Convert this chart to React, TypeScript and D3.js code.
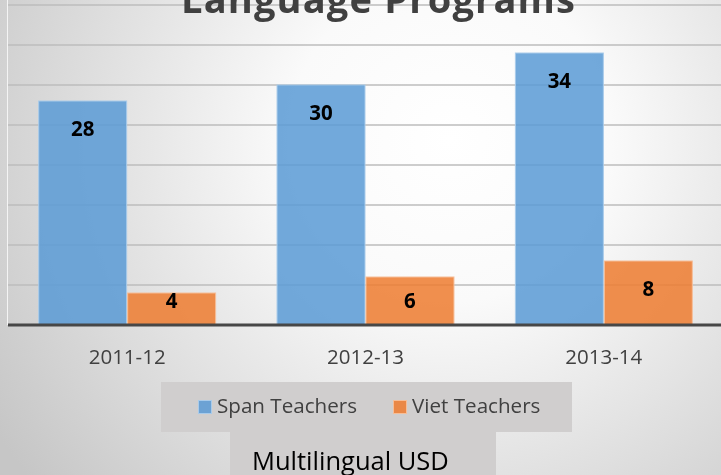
import React from "react";
import * as d3 from "d3";

const categories = ["2011-12", "2012-13", "2013-14"];
const seriesNames = ["Span Teachers", "Viet Teachers"];
const spanTeachers = [28, 30, 34];
const vietTeachers = [4, 6, 8];
const yTicks = [0, 5, 10, 15, 20, 25, 30, 35, 40];
const title = "Language Programs";
const subtitle = "Multilingual USD";

const colors = ["#5B9BD5", "#ED7D31"];
const strokes = ["#A9CBEA", "#F6BE98"];

export default function App() {
  const W = 721;
  const H = 475;
  const plotLeft = 8;
  const plotRight = 723;
  const baseY = 325;
  const topY = 5;

  const x = d3
    .scaleBand<string>()
    .domain(categories)
    .range([plotLeft, plotRight])
    .paddingInner(0.2535)
    .paddingOuter(0.1267);
  const xs = d3.scaleBand<string>().domain(seriesNames).range([0, x.bandwidth()]);
  const y = d3.scaleLinear().domain([0, 40]).range([baseY, topY]);

  const series = [spanTeachers, vietTeachers];
  const font = "'Open Sans', 'DejaVu Sans', sans-serif";

  return (
    <div style={{ position: "fixed", left: 0, top: 0, width: W, height: H }}>
      <svg width={W} height={H} style={{ display: "block" }}>
        <defs>
          <radialGradient id="bg" gradientUnits="userSpaceOnUse" cx={450} cy={140} r={540}>
            <stop offset="0" stopColor="#FFFFFF" />
            <stop offset="0.3" stopColor="#FAFAFA" />
            <stop offset="1" stopColor="#C6C6C6" />
          </radialGradient>
        </defs>
        <rect x={0} y={0} width={W} height={H} fill="url(#bg)" />
        <line x1={7.5} x2={7.5} y1={0} y2={baseY} stroke="#F4F4F4" strokeWidth={1} />
        {yTicks.slice(1).map((t) => (
          <line
            key={t}
            x1={plotLeft}
            x2={W}
            y1={y(t)}
            y2={y(t)}
            stroke="#BDBDBD"
            strokeWidth={1.3}
          />
        ))}
        {series.map((vals, si) =>
          vals.map((v, ci) => {
            const bx = (x(categories[ci]) ?? 0) + (xs(seriesNames[si]) ?? 0);
            return (
              <rect
                key={`${si}-${ci}`}
                x={bx + 0.5}
                y={y(v)}
                width={xs.bandwidth() - 1}
                height={baseY - y(v)}
                fill={colors[si]}
                fillOpacity={0.86}
                stroke={strokes[si]}
                strokeWidth={1}
              />
            );
          })
        )}
        {series.map((vals, si) =>
          vals.map((v, ci) => {
            const cx = (x(categories[ci]) ?? 0) + (xs(seriesNames[si]) ?? 0) + xs.bandwidth() / 2;
            const cy = Math.min(y(v) + 27, baseY - 24.5);
            return (
              <text
                key={`l${si}-${ci}`}
                x={cx}
                y={cy + 7.5}
                textAnchor="middle"
                fontFamily={font}
                fontWeight={700}
                fontSize={20.5}
                fill="#000000"
              >
                {v}
              </text>
            );
          })
        )}
        <line x1={plotLeft} x2={W} y1={baseY} y2={baseY} stroke="#474747" strokeWidth={3} />
        {categories.map((c) => (
          <text
            key={c}
            x={(x(c) ?? 0) + x.bandwidth() / 2}
            y={364}
            textAnchor="middle"
            fontFamily={font}
            fontSize={20.5}
            fill="#404040"
          >
            {c}
          </text>
        ))}
        <text
          x={181}
          y={13}
          fontFamily={font}
          fontWeight={700}
          fontSize={38}
          fill="#404040"
          textLength={394}
          lengthAdjust="spacing"
        >
          {title}
        </text>
        <rect x={161} y={382} width={411} height={50} fill="#D0CECE" />
        {seriesNames.map((s, i) => {
          const lx = i === 0 ? 198 : 393;
          return (
            <g key={s}>
              <rect
                x={lx + 0.5}
                y={400.5}
                width={13}
                height={13}
                fill={colors[i]}
                fillOpacity={0.86}
                stroke={strokes[i]}
                strokeWidth={1}
              />
              <text x={lx + 19} y={413} fontFamily={font} fontSize={20.6} fill="#404040">
                {s}
              </text>
            </g>
          );
        })}
        <rect x={230} y={432} width={266} height={43} fill="#D0CECE" />
        <text x={252} y={470} fontFamily={font} fontSize={25.5} fill="#000000">
          {subtitle}
        </text>
      </svg>
    </div>
  );
}
